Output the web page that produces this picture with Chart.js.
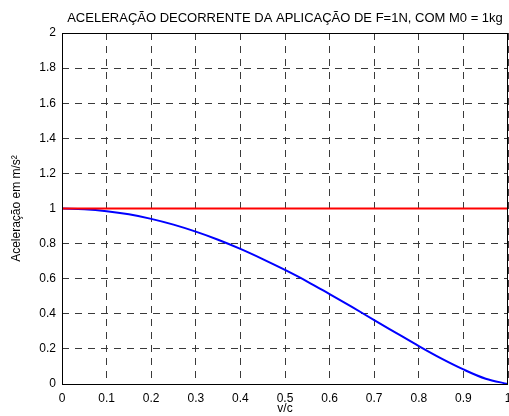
<!DOCTYPE html>
<html>
<head>
<meta charset="utf-8">
<script src="https://cdn.jsdelivr.net/npm/chart.js@4.4.1/dist/chart.umd.min.js"></script>
<style>
  html, body { margin: 0; padding: 0; background: #fff; }
  #wrap { width: 509px; height: 416px; }
</style>
</head>
<body>
<div id="wrap"><canvas id="acel"></canvas></div>
<script>
// v/c sampled every 0.05
var vc = [0, 0.05, 0.1, 0.15, 0.2, 0.25, 0.3, 0.35, 0.4, 0.45, 0.5,
          0.55, 0.6, 0.65, 0.7, 0.75, 0.8, 0.85, 0.9, 0.95, 1];
// blue curve
var acelRel = [1.0, 0.996, 0.985, 0.967, 0.941, 0.908, 0.868, 0.822, 0.770, 0.712, 0.650,
               0.584, 0.512, 0.439, 0.364, 0.290, 0.216, 0.146, 0.083, 0.030, 0];
// red line (classical value)
var acelClass = [1, 1];
var classX = [0, 1];

var titulo = "ACELERAÇÃO DECORRENTE DA APLICAÇÃO DE F=1N, COM M0 = 1kg";
var fonte = "Arial, 'Liberation Sans', sans-serif";

function pts(xs, ys) {
    var out = [];
    for (var i = 0; i < xs.length; i++) out.push({x: xs[i], y: ys[i]});
    return out;
}

// matlab-like labels: 0, 0.2, ..., 1
function rotulo(v) {
    return String(Math.round(v * 10) / 10);
}

// box round the plot + title centred on the plot area
var moldura = {
    id: 'moldura',
    afterDraw: function(chart) {
        var a = chart.chartArea, ctx = chart.ctx;
        ctx.save();
        ctx.strokeStyle = '#000';
        ctx.lineWidth = 1;
        ctx.strokeRect(Math.round(a.left) + 0.5, Math.round(a.top) + 0.5,
                       Math.round(a.right - a.left) - 1, Math.round(a.bottom - a.top));
        ctx.fillStyle = '#000';
        ctx.font = "13px " + fonte;
        ctx.textAlign = 'center';
        ctx.textBaseline = 'middle';
        ctx.fillText(titulo, (a.left + a.right) / 2, 18);
        ctx.restore();
    }
};

new Chart(document.getElementById('acel').getContext('2d'), {
    type: 'line',
    data: {
        datasets: [
            {
                label: 'clássica',
                data: pts(classX, acelClass),
                borderColor: '#ff0000',
                borderWidth: 2,
                pointRadius: 0,
                tension: 0
            },
            {
                label: 'relativística',
                data: pts(vc, acelRel),
                borderColor: '#0000ff',
                borderWidth: 2,
                pointRadius: 0,
                cubicInterpolationMode: 'monotone'
            }
        ]
    },
    options: {
        responsive: true,
        maintainAspectRatio: false,
        animation: false,
        layout: { padding: { top: 33, right: 1, left: 0, bottom: 0 } },
        plugins: {
            legend: { display: false },
            tooltip: { enabled: false }
        },
        scales: {
            x: {
                type: 'linear',
                min: 0, max: 1,
                afterFit: function(s) { s.height = 32; s.paddingLeft = 0; s.paddingRight = 0; },
                ticks: { stepSize: 0.1, color: '#000', padding: 7, maxRotation: 0,
                         callback: rotulo, font: { family: fonte, size: 12 } },
                grid: { color: '#3a3a3a', lineWidth: 1, drawTicks: false },
                border: { display: false, dash: [7, 6] },
                title: { display: true, text: 'v/c', color: '#000', padding: { top: 0, bottom: 0 },
                         font: { family: fonte, size: 12 } }
            },
            y: {
                min: 0, max: 2,
                afterFit: function(s) { s.width = 62; s.paddingTop = 0; s.paddingBottom = 0; },
                ticks: { stepSize: 0.2, color: '#000', padding: 6,
                         callback: rotulo, font: { family: fonte, size: 12 } },
                grid: { color: '#3a3a3a', lineWidth: 1, drawTicks: false },
                border: { display: false, dash: [7, 6] },
                title: { display: true, text: 'Aceleração em m/s²', color: '#000',
                         padding: { top: 9, bottom: 4 },
                         font: { family: fonte, size: 12 } }
            }
        }
    },
    plugins: [moldura]
});
</script>
</body>
</html>
